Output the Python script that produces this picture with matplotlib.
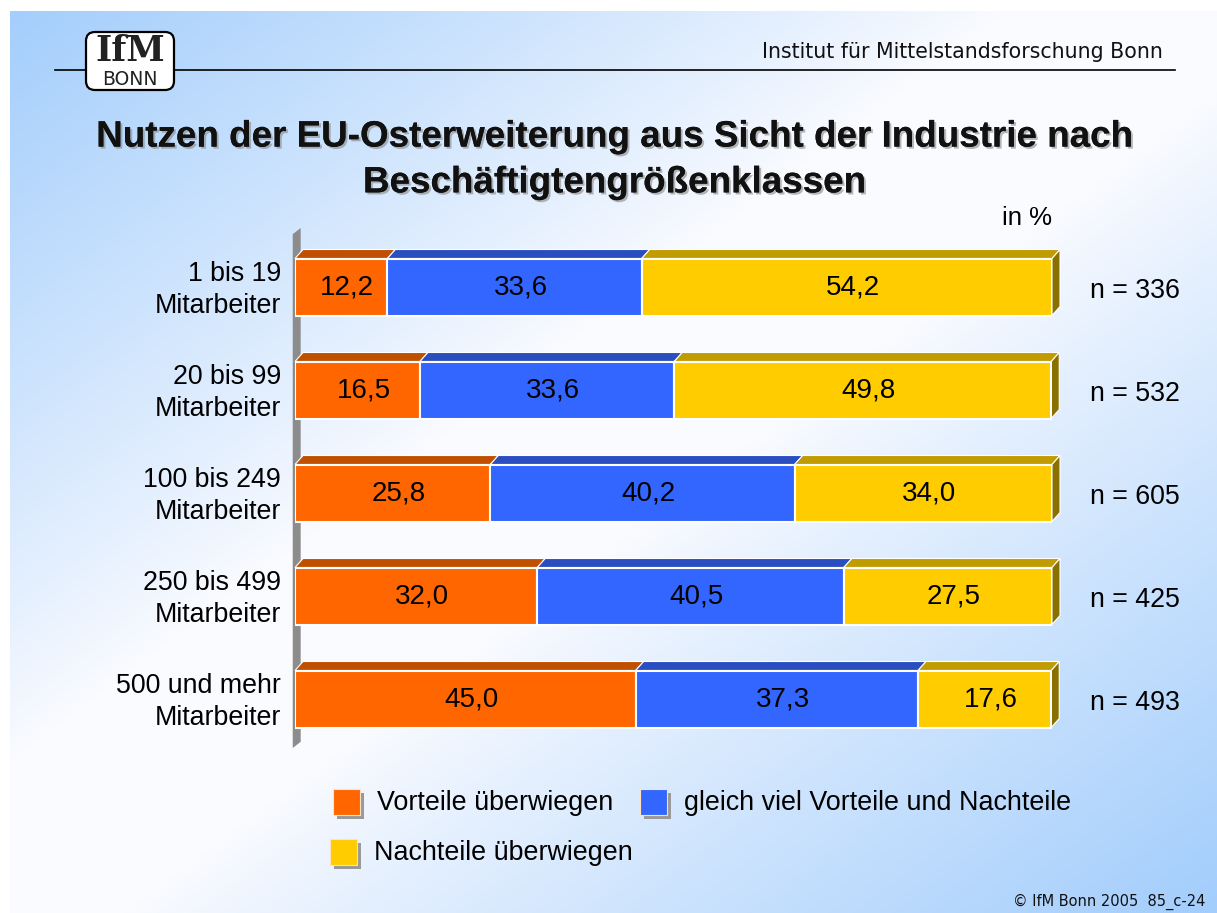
import numpy as np
import matplotlib
matplotlib.use("Agg")
import matplotlib.pyplot as plt
from matplotlib.patches import Polygon, Rectangle, FancyBboxPatch
import matplotlib.patheffects as pe

# ---------------- data ----------------
categories = ["1 bis 19\nMitarbeiter", "20 bis 99\nMitarbeiter", "100 bis 249\nMitarbeiter",
              "250 bis 499\nMitarbeiter", "500 und mehr\nMitarbeiter"]
vorteile = [12.2, 16.5, 25.8, 32.0, 45.0]
gleich = [33.6, 33.6, 40.2, 40.5, 37.3]
nachteile = [54.2, 49.8, 34.0, 27.5, 17.6]
n_values = [336, 532, 605, 425, 493]
series_names = ["Vorteile überwiegen", "gleich viel Vorteile und Nachteile", "Nachteile überwiegen"]

title = "Nutzen der EU-Osterweiterung aus Sicht der Industrie nach\nBeschäftigtengrößenklassen"
header = "Institut für Mittelstandsforschung Bonn"
footer = "© IfM Bonn 2005  85_c-24"

front_colors = ["#FF6600", "#3366FF", "#FFCC00"]
top_colors = ["#C05000", "#2A4EC0", "#C09C00"]
side_color = "#8A7000"

W, H = 1217, 913
fig = plt.figure(figsize=(W / 100, H / 100), dpi=100)

# ---------------- background gradient ----------------
yy, xx = np.mgrid[0:H, 0:W]
s = (xx / W + yy / H) / 2.0
t = np.where(s < 0.42, (0.42 - s) / 0.42, np.where(s > 0.55, (s - 0.55) / 0.45, 0.0))
t = np.clip(t, 0, 1) ** 0.9
c_in = np.array([250, 251, 255]) / 255
c_out = np.array([162, 205, 252]) / 255
img = c_in[None, None, :] * (1 - t[..., None]) + c_out[None, None, :] * t[..., None]
img[:11, :, :] = 1.0
img[:, :10, :] = 1.0
fig.figimage(img, xo=0, yo=0, origin="upper", zorder=0)

# ---------------- overlay (pixel coords) ----------------
ov = fig.add_axes([0, 0, 1, 1], zorder=5)
ov.set_axis_off()
ov.set_xlim(0, W)
ov.set_ylim(H, 0)
ov.patch.set_alpha(0)

ov.plot([55, 1175], [70, 70], color="black", lw=1.2)
ov.text(1163, 52, header, ha="right", va="center", fontsize=14.8, family="DejaVu Sans", color="#111111")
# logo
ov.add_patch(FancyBboxPatch((86, 32), 88, 58, boxstyle="round,pad=0,rounding_size=9",
                            fc="white", ec="black", lw=1.6, zorder=6))
ov.text(130, 51, "IfM", ha="center", va="center", fontsize=25, family="DejaVu Serif",
        fontweight="bold", color="#222222", zorder=7)
ov.text(130, 79.5, "BONN", ha="center", va="center", fontsize=13.5, family="DejaVu Sans",
        color="#222222", zorder=7)

ov.text(614, 160, title, ha="center", va="center", fontsize=26.5, fontweight="bold",
        family="Liberation Sans", linespacing=1.4, color="#111111",
        path_effects=[pe.withSimplePatchShadow(offset=(1.5, -1.5), shadow_rgbFace="#888888", alpha=0.6),
                      pe.Normal()])
ov.text(1052, 218, "in %", ha="right", va="center", fontsize=18.5, family="Liberation Sans")
ov.text(1205, 902, footer, ha="right", va="center", fontsize=10.5, family="DejaVu Sans", color="#111111")

# legend
leg_items = [(333, 803, 0), (640, 803, 1), (330, 853, 2)]
for lx, ly, k in leg_items:
    ov.add_patch(Rectangle((lx + 4, ly - 10), 27, 26, fc="#999999", ec="none", zorder=6))
    ov.add_patch(Rectangle((lx, ly - 14), 27, 26, fc=front_colors[k], ec="#FFE0C0", lw=0.8, zorder=7))
    ov.text(lx + 44, ly, series_names[k], ha="left", va="center", fontsize=19.4,
            family="Liberation Sans", zorder=7)

# ---------------- bar axes ----------------
left_px, right_px = 295, 1052
top_px, bot_px = 228, 748
ax = fig.add_axes([left_px / W, 1 - bot_px / H, (right_px - left_px) / W, (bot_px - top_px) / H], zorder=3)
ax.patch.set_alpha(0)
ax.set_xlim(0, 100)
row0, step = 287, 103
ax.set_ylim((bot_px - row0) / step, (top_px - row0) / step)
ax.set_axis_off()

px_x = (right_px - left_px) / 100.0
dx = 8 / px_x
dy = -9 / step
bh = 57 / step

# gray wall
ylo, yhi = ax.get_ylim()
ax.add_patch(Polygon([(-0.3, ylo), (0.75, ylo - 0.06), (0.75, yhi), (-0.3, yhi + 0.06)],
                     closed=True, fc="#8C8C8C", ec="none", zorder=1, clip_on=False))

ypos = np.arange(len(categories))
data = [vorteile, gleich, nachteile]
for i in ypos:
    left = 0.0
    for k in range(3):
        w = data[k][i]
        top = i - bh / 2
        ax.barh(i, w, left=left, height=bh, color=front_colors[k], edgecolor="white", lw=1.5, zorder=3)
        ax.add_patch(Polygon([(left, top), (left + dx, top + dy), (left + w + dx, top + dy), (left + w, top)],
                             closed=True, fc=top_colors[k], ec="white", lw=0.8, zorder=2, clip_on=False))
        ax.text(left + w / 2 + 0.8, i, f"{w:.1f}".replace(".", ","), ha="center", va="center",
                fontsize=20, family="Liberation Sans", zorder=5)
        left += w
    ax.add_patch(Polygon([(left, i - bh / 2), (left + dx, i - bh / 2 + dy), (left + dx, i + bh / 2 + dy),
                          (left, i + bh / 2)], closed=True, fc=side_color, ec="white", lw=0.8,
                         zorder=2, clip_on=False))
    ax.text(-14 / px_x, i + 0.03, categories[i], ha="right", va="center", fontsize=19.3,
            family="Liberation Sans", linespacing=1.31, multialignment="right", clip_on=False)
    ax.text(105.0, i + 0.04, f"n = {n_values[i]}", ha="left", va="center", fontsize=19.3,
            family="Liberation Sans", clip_on=False)

fig.savefig("out.png", dpi=100)
